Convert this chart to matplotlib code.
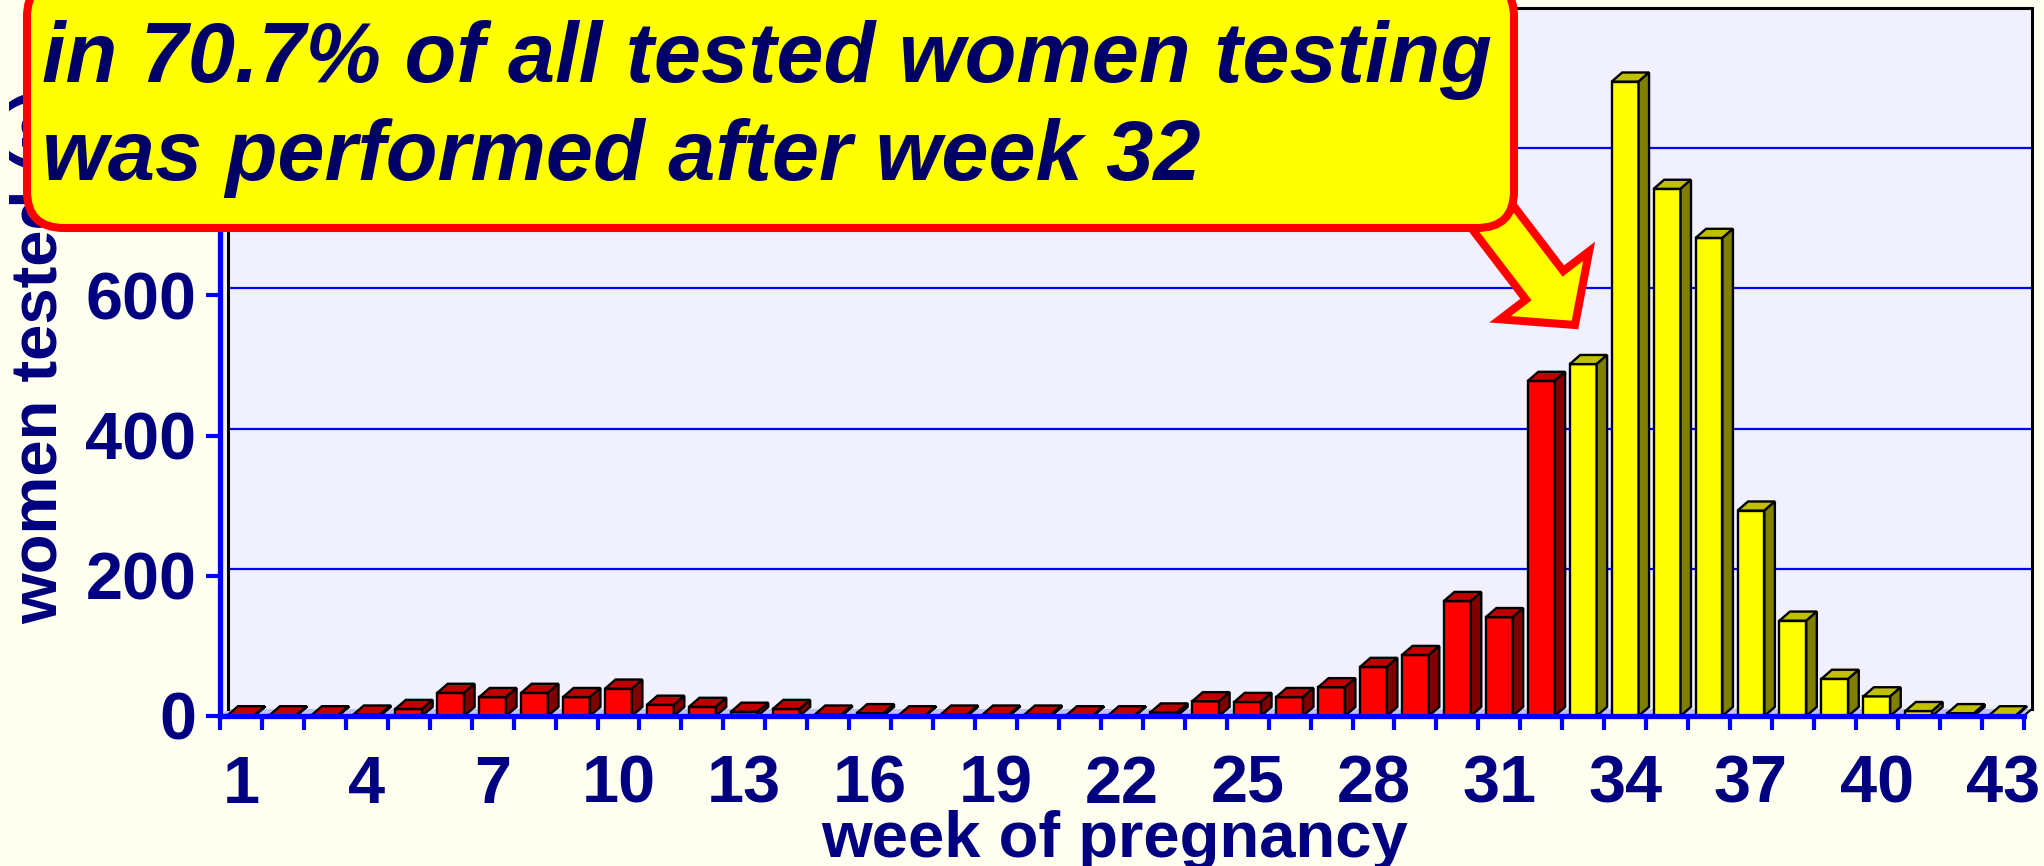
import matplotlib
matplotlib.use("Agg")
import matplotlib.pyplot as plt
from matplotlib.patches import Polygon, Rectangle, FancyBboxPatch, FancyArrow

# data
weeks = list(range(1, 44))
women_tested = [1, 1, 1, 2, 10, 33, 27, 33, 27, 39,
                16, 13, 6, 10, 2, 4, 1, 2, 2, 2,
                1, 1, 5, 21, 20, 27, 41, 70, 87, 164,
                141, 478, 502, 905, 752, 682, 293, 136, 53, 28,
                7, 4, 1]
last_red_week = 32
xtick_weeks = list(range(1, 44, 3))
ytick_vals = [0, 200, 400, 600, 800]
callout = ["in 70.7% of all tested women testing", "was performed after week 32"]

W, H = 2044, 866
NAVY = "#000080"
BLUE = "#0000FF"
BG = "#FFFFF0"
WALL = "#F0F0FF"
FLOOR = "#C0C0F0"
RED = ("#FF0000", "#C00000", "#800000")
YEL = ("#FFFF00", "#C0C000", "#808000")
FONT = "Liberation Sans"

plt.rcParams["font.family"] = [FONT, "DejaVu Sans"]

fig = plt.figure(figsize=(W / 100, H / 100), dpi=100, facecolor=BG)

# main axes: left/bottom edges are the front plane, top/right the back wall
DX, DY = 0.20, 10.0       # floor depth in data units
BDX, BDY = 0.25, 13.0     # bar depth
left, right, top, bottom = 220, 2032, 8, 716
ax = fig.add_axes([left / W, (H - bottom) / H, (right - left) / W, (bottom - top) / H])
ax.set_facecolor(BG)
ax.set_xlim(0.5 - DX, 43.5)
ax.set_ylim(-DY, 1000)

# back wall, side wall and floor
ax.add_patch(Rectangle((0.5, 0), 43, 1000, fc=WALL, ec="none", zorder=0))
ax.add_patch(Polygon([(0.5 - DX, -DY), (0.5, 0), (0.5, 1000), (0.5 - DX, 1000 - DY)],
                     fc=WALL, ec="none", zorder=0))
ax.add_patch(Polygon([(0.5 - DX, -DY), (43.5 - DX, -DY), (43.5, 0), (0.5, 0)],
                     fc=FLOOR, ec="none", zorder=0))
ax.hlines([200, 400, 600, 800], 0.5, 43.5, color=BLUE, lw=1.6, zorder=1)
ax.plot([0.5, 0.5, 43.5, 43.5], [0, 1000, 1000, 0], color="black", lw=2.2,
        zorder=1, clip_on=False, solid_joinstyle="miter")
ax.plot([43.5 - DX, 43.5], [-DY, 0], color="black", lw=1.5, zorder=1)

# 3d bars
bw = 0.64
for wk, v in zip(weeks, women_tested):
    front, topc, side = RED if wk <= last_red_week else YEL
    xl = wk - DX - bw / 2
    xr = xl + bw
    y0, y1 = -DY, v - DY
    ax.add_patch(Rectangle((xl, y0), bw, v, fc=front, ec="black", lw=1.7, zorder=3))
    ax.add_patch(Polygon([(xl, y1), (xr, y1), (xr + BDX, y1 + BDY), (xl + BDX, y1 + BDY)],
                         fc=topc, ec="black", lw=1.7, zorder=3))
    ax.add_patch(Polygon([(xr, y0), (xr, y1), (xr + BDX, y1 + BDY), (xr + BDX, y0 + BDY)],
                         fc=side, ec="black", lw=1.7, zorder=3))

# front axes
for s in ("top", "right"):
    ax.spines[s].set_visible(False)
for s in ("left", "bottom"):
    ax.spines[s].set_color(BLUE)
    ax.spines[s].set_linewidth(3.8)
    ax.spines[s].set_zorder(4)
ax.spines["bottom"].set_bounds(0.5 - DX, 43.5 - DX)
ax.spines["left"].set_bounds(-DY, 1000 - DY)

ax.set_yticks([v - DY for v in ytick_vals], [str(v) for v in ytick_vals])
ax.tick_params(axis="y", length=10, width=3, color=BLUE, pad=7,
               labelsize=48, labelcolor=NAVY)
ax.set_xticks([w - DX for w in xtick_weeks], [str(w) for w in xtick_weeks])
ax.set_xticks([k + 0.5 - DX for k in range(44)], minor=True)
ax.tick_params(axis="x", which="major", length=0, pad=28, labelsize=48, labelcolor=NAVY)
ax.tick_params(axis="x", which="minor", length=10, width=3, color=BLUE)
for lab in ax.get_xticklabels() + ax.get_yticklabels():
    lab.set_fontweight("bold")

# overlay in pixel coordinates for labels and the callout
ov = fig.add_axes([0, 0, 1, 1], zorder=10)
ov.set_xlim(0, W)
ov.set_ylim(H, 0)
ov.axis("off")
ov.patch.set_alpha(0)

ov.text(40, 356, "women tested (n)", rotation=90, ha="center", va="center",
        fontsize=47, fontweight="bold", color=NAVY, zorder=1)
ov.text(1115, 857, "week of pregnancy", ha="center", va="baseline",
        fontsize=47, fontweight="bold", color=NAVY, zorder=1)

ov.add_patch(FancyArrow(1468, 185, 107, 140, width=47, head_width=112, head_length=50,
                        length_includes_head=True, fc="#FFFF00", ec="#FF0000",
                        lw=5.8, joinstyle="miter", zorder=2))
ov.add_patch(FancyBboxPatch((27, -20), 1487, 248, boxstyle="round,pad=0,rounding_size=37",
                            fc="#FFFF00", ec="#FF0000", lw=5.8, zorder=3))
for y, line in zip((82, 180), callout):
    ov.text(42, y, line, ha="left", va="baseline", fontsize=61, fontweight="bold",
            fontstyle="italic", color="#000066", zorder=4)

fig.savefig("out.png", dpi=100, facecolor=BG)
